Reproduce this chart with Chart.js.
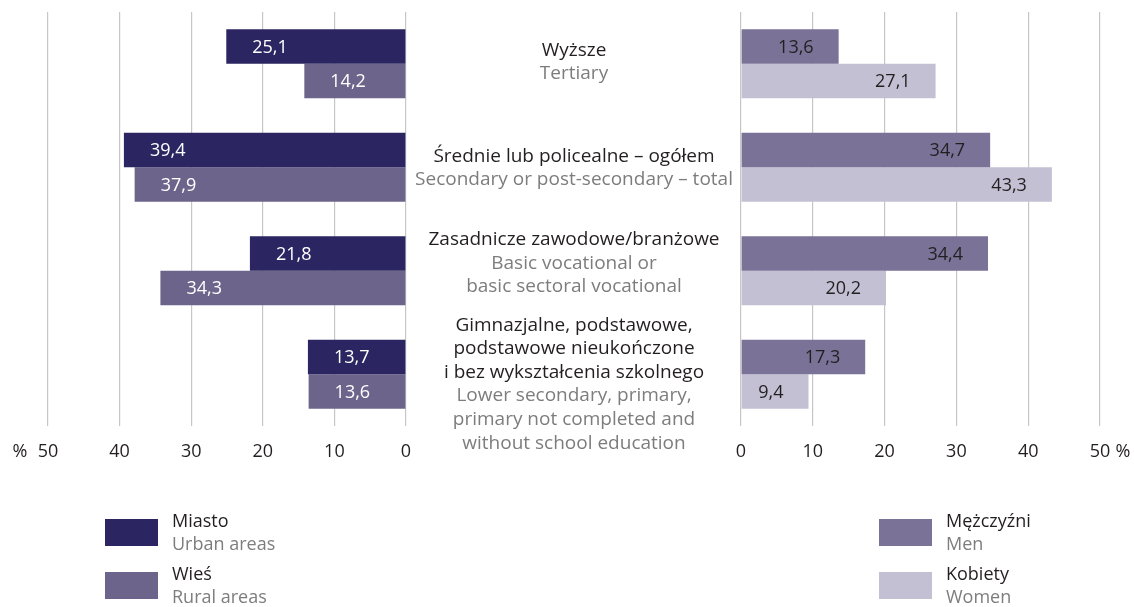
<!DOCTYPE html>
<html lang="pl">
<head>
<meta charset="UTF-8">
<title>Wykształcenie</title>
<script src="https://cdn.jsdelivr.net/npm/chart.js"></script>
<style>
    body { margin: 0; background: #fff; }
    #wrap { position: relative; width: 1134px; height: 607px; }
    #wrap canvas { position: absolute; left: 0; top: 0; }
</style>
</head>
<body>
<div id="wrap">
    <canvas id="leftChart" width="1134" height="607"></canvas>
    <canvas id="rightChart" width="1134" height="607"></canvas>
</div>
<script>
// data
const categoriesPl = [
    ['Wyższe'],
    ['Średnie lub policealne – ogółem'],
    ['Zasadnicze zawodowe/branżowe'],
    ['Gimnazjalne, podstawowe,', 'podstawowe nieukończone', 'i bez wykształcenia szkolnego']
];
const categoriesEn = [
    ['Tertiary'],
    ['Secondary or post-secondary – total'],
    ['Basic vocational or', 'basic sectoral vocational'],
    ['Lower secondary, primary,', 'primary not completed and', 'without school education']
];
const urban = [25.1, 39.4, 21.8, 13.7];
const rural = [14.2, 37.9, 34.3, 13.6];
const men = [13.6, 34.7, 34.4, 17.3];
const women = [27.1, 43.3, 20.2, 9.4];
const xTicks = [0, 10, 20, 30, 40, 50];
const leftSeries = [['Miasto', 'Urban areas'], ['Wieś', 'Rural areas']];
const rightSeries = [['Mężczyźni', 'Men'], ['Kobiety', 'Women']];

const DARK = '#231f20';
const GREY = '#7d7d7d';
const FONT = "'Open Sans', sans-serif";
Chart.defaults.font.family = FONT;

const fmt = v => v.toFixed(1).replace('.', ',');

// offsets of first text line from category centre
const labelShift = [-13.5, -11, -31, -49];

function xScale(reverse) {
    return {
        min: 0, max: 50, reverse: reverse,
        afterBuildTicks: s => { s.ticks = xTicks.map(v => ({ value: v })); },
        afterFit: s => { s.height = 181; },
        ticks: { color: DARK, font: { size: 18 }, padding: 15, maxRotation: 0 },
        grid: { color: '#c6c6c6', lineWidth: 1.2, drawTicks: false },
        border: { display: false }
    };
}

const valueLabels = {
    id: 'valueLabels',
    afterDatasetsDraw(chart) {
        const ctx = chart.ctx;
        const left = chart.canvas.id === 'leftChart';
        ctx.save();
        ctx.font = '18px ' + FONT;
        ctx.textBaseline = 'middle';
        chart.data.datasets.forEach((ds, di) => {
            chart.getDatasetMeta(di).data.forEach((bar, i) => {
                ctx.fillStyle = ds.labelColor;
                if (left) {
                    ctx.textAlign = 'left';
                    ctx.fillText(fmt(ds.data[i]), bar.x + 26, bar.y + 1);
                } else {
                    ctx.textAlign = 'right';
                    ctx.fillText(fmt(ds.data[i]), bar.x - 25, bar.y + 1);
                }
            });
        });
        ctx.restore();
    }
};

function drawLegend(ctx, series, colors, x, y) {
    ctx.save();
    ctx.textAlign = 'left';
    ctx.textBaseline = 'middle';
    series.forEach((s, i) => {
        const top = y + i * 53;
        ctx.fillStyle = colors[i];
        ctx.fillRect(x, top, 53, 27);
        ctx.font = '18px ' + FONT;
        ctx.fillStyle = DARK;
        ctx.fillText(s[0], x + 67, top + 3);
        ctx.fillStyle = GREY;
        ctx.fillText(s[1], x + 67, top + 26);
    });
    ctx.restore();
}

const extras = {
    id: 'extras',
    afterDraw(chart) {
        const ctx = chart.ctx;
        const left = chart.canvas.id === 'leftChart';
        const colors = chart.data.datasets.map(d => d.backgroundColor);
        ctx.save();
        ctx.font = '18px ' + FONT;
        ctx.fillStyle = DARK;
        ctx.textBaseline = 'middle';
        ctx.textAlign = 'center';
        if (left) {
            ctx.fillText('%', 20, 452);
            // category labels in the middle
            const y = chart.scales.y;
            ctx.font = '19px ' + FONT;
            categoriesPl.forEach((pl, i) => {
                let yy = y.getPixelForValue(i) + labelShift[i];
                ctx.fillStyle = DARK;
                pl.forEach(t => { ctx.fillText(t, 574, yy); yy += 23.6; });
                ctx.fillStyle = GREY;
                categoriesEn[i].forEach(t => { ctx.fillText(t, 574, yy); yy += 23.6; });
            });
            drawLegend(ctx, leftSeries, colors, 105, 519);
        } else {
            ctx.fillText('%', 1123, 452);
            drawLegend(ctx, rightSeries, colors, 879, 519);
        }
        ctx.restore();
    }
};

function makeChart(id, sets, reverse, padding) {
    return new Chart(document.getElementById(id), {
        type: 'bar',
        data: {
            labels: categoriesPl.map(c => c.join(' ')),
            datasets: sets
        },
        options: {
            indexAxis: 'y',
            responsive: false,
            animation: false,
            layout: { padding: padding },
            categoryPercentage: 0.665,
            barPercentage: 1,
            plugins: { legend: { display: false }, tooltip: { enabled: false } },
            scales: {
                x: xScale(reverse),
                y: { display: false }
            }
        },
        plugins: [valueLabels, extras]
    });
}

makeChart('leftChart', [
    { label: leftSeries[0][0], data: urban, backgroundColor: '#2b2661', labelColor: '#ffffff' },
    { label: leftSeries[1][0], data: rural, backgroundColor: '#6c648a', labelColor: '#ffffff' }
], true, { left: 48, right: 728, top: 12, bottom: 0 });

makeChart('rightChart', [
    { label: rightSeries[0][0], data: men, backgroundColor: '#7a7297', labelColor: DARK },
    { label: rightSeries[1][0], data: women, backgroundColor: '#c3c0d4', labelColor: DARK }
], false, { left: 741, right: 34, top: 12, bottom: 0 });
</script>
</body>
</html>
